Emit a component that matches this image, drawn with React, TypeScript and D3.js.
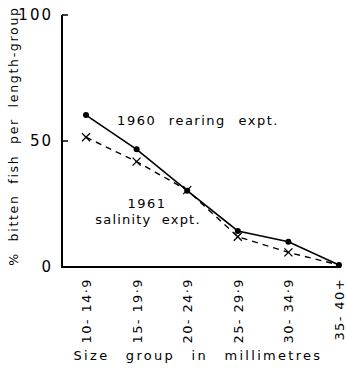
import React from "react";
import * as d3 from "d3";

const groups = ["10-14·9", "15-19·9", "20-24·9", "25-29·9", "30-34·9", "35-40+"];
const rearing1960 = [60.3, 46.7, 30.3, 14.3, 10, 0.8];
const salinity1961 = [51.5, 41.8, 30.5, 12, 5.8, 0.8];
const yTicks = [0, 50, 100];

const width = 347;
const height = 371;
const margin = { top: 15, right: 8, bottom: 104, left: 62 };
const font = "'DejaVu Sans', sans-serif";

const App = () => {
  const x = d3.scalePoint(groups, [86, 339]);
  const y = d3.scaleLinear([0, 100], [height - margin.bottom, margin.top]);
  const line = d3
    .line<number>()
    .x((d, i) => x(groups[i]) as number)
    .y((d) => y(d));

  return (
    <svg
      width={width}
      height={height}
      style={{ position: "absolute", left: 0, top: 0, background: "#fff" }}
    >
      <g stroke="#000" strokeWidth={2} fill="none">
        <path d={`M${margin.left},${y(100)}V${y(0)}H${width - margin.right + 2}`} />
        {yTicks.map((t) => (
          <line key={t} x1={margin.left} x2={margin.left + 6} y1={y(t)} y2={y(t)} strokeWidth={1.5} />
        ))}
      </g>
      <g fontFamily={font} fontSize={15} textAnchor="end" fill="#000" letterSpacing={2}>
        {yTicks.map((t) => (
          <text key={t} x={margin.left - 9} y={y(t)} dy="0.36em">
            {t}
          </text>
        ))}
      </g>
      <text
        transform={`translate(18,${(y(0) + y(100)) / 2 - 5}) rotate(-90)`}
        textAnchor="middle"
        fontFamily={font}
        fontSize={12.5}
        letterSpacing={1.7}
        wordSpacing={5}
      >
        % bitten fish per length-group
      </text>
      <g fontFamily={font} fontSize={13} letterSpacing={1.4}>
        {groups.map((g) => (
          <text
            key={g}
            transform={`translate(${(x(g) as number) + 5},${y(0) + 11}) rotate(-90)`}
            textAnchor="end"
          >
            {g.replace("-", "- ")}
          </text>
        ))}
      </g>
      <text
        x={198}
        y={360}
        textAnchor="middle"
        fontFamily={font}
        fontSize={13}
        letterSpacing={2.3}
        wordSpacing={10}
      >
        Size group in millimetres
      </text>
      <path d={line(salinity1961) ?? ""} fill="none" stroke="#000" strokeWidth={1.4} strokeDasharray="6,5" />
      <path d={line(rearing1960) ?? ""} fill="none" stroke="#000" strokeWidth={1.6} />
      <g fill="#000">
        {rearing1960.map((d, i) => (
          <circle key={i} cx={x(groups[i])} cy={y(d)} r={3} />
        ))}
      </g>
      <g stroke="#000" strokeWidth={1.3}>
        {salinity1961.slice(0, 5).map((d, i) => {
          const cx = x(groups[i]) as number;
          const cy = y(d);
          return (
            <g key={i}>
              <line x1={cx - 4} x2={cx + 4} y1={cy - 4} y2={cy + 4} />
              <line x1={cx - 4} x2={cx + 4} y1={cy + 4} y2={cy - 4} />
            </g>
          );
        })}
      </g>
      <g fontFamily={font} fontSize={13} letterSpacing={1.5} wordSpacing={7}>
        <text x={198} y={125} textAnchor="middle">1960 rearing expt.</text>
        <text x={147} y={208} textAnchor="middle">1961</text>
        <text x={148} y={224} textAnchor="middle" wordSpacing={5} letterSpacing={1.2}>salinity expt.</text>
      </g>
    </svg>
  );
};

export default App;
